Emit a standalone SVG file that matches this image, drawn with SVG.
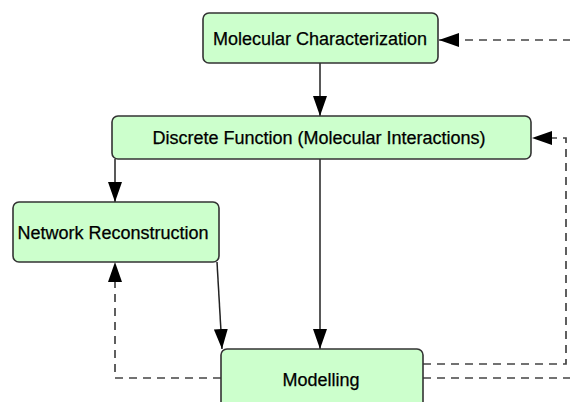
<svg xmlns="http://www.w3.org/2000/svg" width="570" height="402" viewBox="0 0 570 402">
<style>
.box{fill:#ccffcc;stroke:#333;stroke-width:1.6}
.lbl{font-family:"Liberation Sans",Arial,sans-serif;font-size:18px;fill:#000;stroke:#000;stroke-width:0.25;text-anchor:middle;dominant-baseline:central}
.solid{fill:none;stroke:#222;stroke-width:1.5}
.dash{fill:none;stroke:#444;stroke-width:1.7;stroke-dasharray:8 6}
</style>
<defs>
<marker id="ah" markerUnits="userSpaceOnUse" markerWidth="20" markerHeight="14" refX="20" refY="7" orient="auto">
<path d="M0,0 L20,7 L0,14 z" fill="#000"/>
</marker>
</defs>
<rect width="570" height="402" fill="#fff"/>
<g id="connectors">
<path class="solid" d="M320 63 V116" marker-end="url(#ah)"/>
<path class="solid" d="M115 159 V202" marker-end="url(#ah)"/>
<path class="solid" d="M217 262 L222 349" marker-end="url(#ah)"/>
<path class="solid" d="M320 159 V349" marker-end="url(#ah)"/>
<path class="dash" d="M221 378 H115 V262" marker-end="url(#ah)"/>
<path class="dash" d="M423 364 H566 V138 H532" marker-end="url(#ah)"/>
<path class="dash" d="M423 378 H580 V40 H439" marker-end="url(#ah)"/>
</g>
<g id="mc">
<rect class="box" x="203" y="13" width="235" height="50" rx="6"/>
<text class="lbl" x="320" y="39">Molecular Characterization</text>
</g>
<g id="df">
<rect class="box" x="112" y="116" width="419" height="43" rx="6"/>
<text class="lbl" x="319" y="138">Discrete Function (Molecular Interactions)</text>
</g>
<g id="nr">
<rect class="box" x="13" y="202" width="206" height="60" rx="6"/>
<text class="lbl" x="113" y="233">Network Reconstruction</text>
</g>
<g id="mod">
<rect class="box" x="221" y="349" width="202" height="70" rx="6"/>
<text class="lbl" x="321" y="380">Modelling</text>
</g>
</svg>
